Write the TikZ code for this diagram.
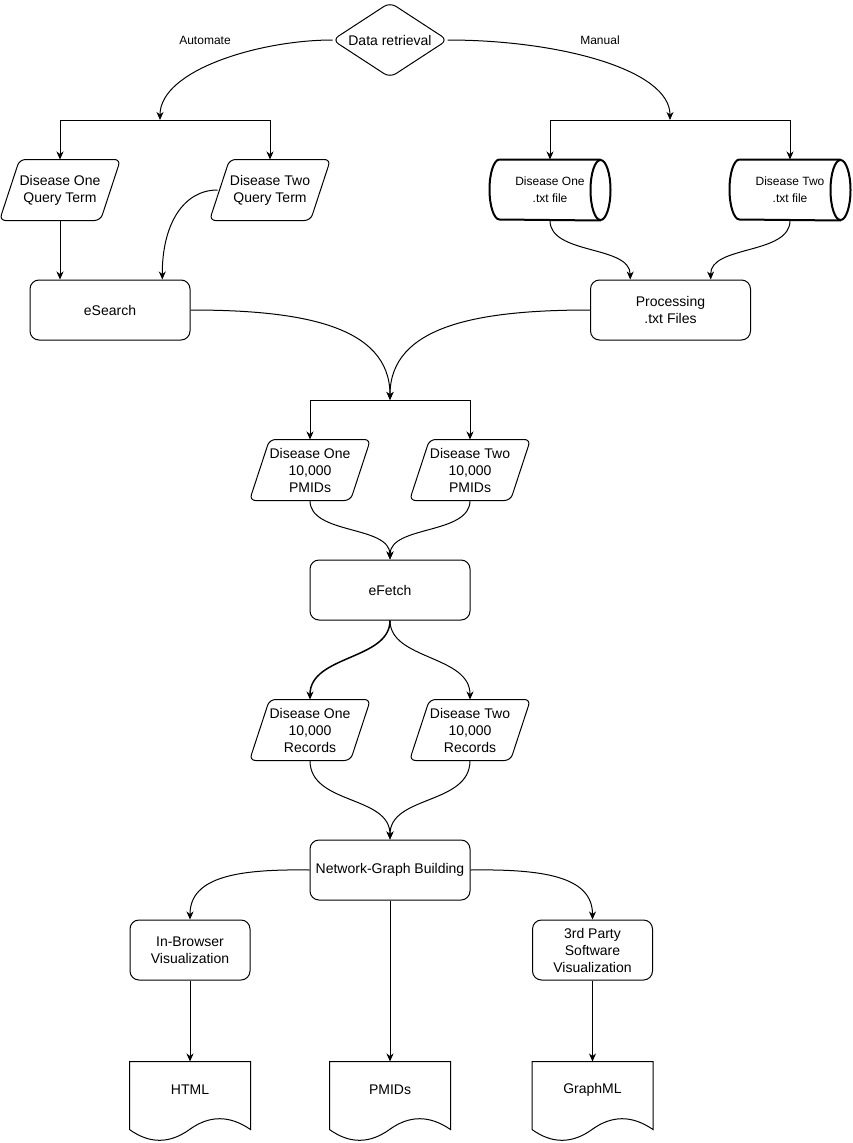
\documentclass[tikz,border=0pt]{standalone}
\usepackage{fontspec}
\setmainfont{Liberation Sans}
\usetikzlibrary{arrows.meta,calc}
\begin{document}
\begin{tikzpicture}[x=1pt,y=-1pt,line width=1pt,
  arr/.style={-{Stealth[length=8pt,width=7pt,inset=2.5pt]}},
  box/.style={draw,rounded corners=9pt,minimum width=160pt,minimum height=60pt,align=center,inner sep=0pt,font=\fontsize{14}{17}\selectfont},
  sbox/.style={box,minimum width=120pt},
  para/.style={minimum width=120pt,minimum height=60pt,align=center,inner sep=0pt,font=\fontsize{14}{17}\selectfont},
  cyl/.style={minimum width=120pt,minimum height=60pt,align=center,inner sep=0pt,font=\fontsize{12}{17}\selectfont},
  docu/.style={minimum width=120pt,minimum height=56pt,align=center,inner sep=0pt,font=\fontsize{14}{17}\selectfont},
  lbl/.style={font=\fontsize{12}{14}\selectfont,inner sep=1pt}]
\useasboundingbox (0,0) rectangle (852,1143);

% decision
\node[minimum width=114pt,minimum height=74pt,inner sep=0pt,font=\fontsize{14}{17}\selectfont] (dr) at (390,40) {Data retrieval};
\draw[rounded corners=7pt] (dr.north) -- (dr.east) -- (dr.south) -- (dr.west) -- cycle;
\node[lbl] (la) at (205,40) {Automate};
\node[lbl] (lm) at (600,40) {Manual};

% query terms
\node[para] (q1) at (60,190) {Disease One\\Query Term};
\node[para] (q2) at (270,190) {Disease Two\\Query Term};
% cylinders
\node[cyl] (c1) at (550,190) {Disease One\\.txt file};
\node[cyl] (c2) at (790,190) {Disease Two\\.txt file};
% boxes
\node[box] (es) at (110,310) {eSearch};
\node[box] (proc) at (670.5,310) {Processing\\.txt Files};
\node[para] (p1) at (310,470) {Disease One\\10,000\\PMIDs};
\node[para] (p2) at (470,470) {Disease Two\\10,000\\PMIDs};
\node[box] (ef) at (390,590) {eFetch};
\node[para] (r1) at (310,730) {Disease One\\10,000\\Records};
\node[para] (r2) at (470,730) {Disease Two\\10,000\\Records};
\node[box] (ngb) at (390,870) {Network-Graph Building};
\node[sbox] (ib) at (190,950) {In-Browser\\Visualization};
\node[sbox] (tp) at (592.5,950) {3rd Party\\Software\\Visualization};
\node[docu] (d1) at (190,1090) {HTML};
\node[docu] (d2) at (390,1090) {PMIDs};
\node[docu] (d3) at (592.5,1090) {GraphML};

% parallelogram outlines
\foreach \n in {q1,q2,p1,p2,r1,r2}{
  \draw[rounded corners=6pt] (\n.north) -- (\n.north east) -- ($(\n.south east)+(-20,0)$) -- (\n.south west) -- ($(\n.north west)+(20,0)$) -- cycle;
}
% cylinder outlines
\foreach \n in {c1,c2}{
  \draw[line width=2pt] ($(\n.north east)+(-10,0)$) -- ($(\n.north west)+(10,0)$) arc[start angle=90,end angle=270,x radius=10pt,y radius=30pt] -- ($(\n.south east)+(-10,0)$);
  \draw[line width=2pt] ($(\n.east)+(-10,0)$) ellipse[x radius=10pt,y radius=30pt];
}
% document outlines
\foreach \n in {d1,d2,d3}{
  \draw (\n.north west) -- (\n.north east) -- ($(\n.north east)+(0,68)$)
    .. controls ($(\n.north west)+(100,53.6)$) and ($(\n.north west)+(80,53.6)$) .. ($(\n.north west)+(60,68)$)
    .. controls ($(\n.north west)+(40,82.4)$) and ($(\n.north west)+(20,82.4)$) .. ($(\n.north west)+(0,68)$) -- cycle;
}

% fork points
\coordinate (fA) at (160,120);
\coordinate (fM) at (670,120);
\coordinate (fP) at (390,400);

% connectors
\draw[arr] (dr.west) .. controls (260,40) and (160,70) .. (fA);
\draw[arr] (dr.east) .. controls (560,40) and (670,70) .. (fM);
\draw[arr] (fA) -| (q1.north);
\draw[arr] (fA) -| (q2.north);
\draw[arr] (fM) -| (c1.north);
\draw[arr] (fM) -| (c2.north);
\draw[arr] (q1.south) -- (q1.south |- es.north);
\draw[arr] ($(q2.west)+(8,0)$) .. controls (183,190) and (162,225) .. ($(es.north west)!0.825!(es.north east)$);
\draw[arr] (c1.south) .. controls (550,255) and (630,245) .. ($(proc.north west)!0.25!(proc.north east)$);
\draw[arr] (c2.south) .. controls (790,255) and (710,245) .. ($(proc.north west)!0.75!(proc.north east)$);
\draw[arr] (es.east) .. controls (300,310) and (390,325) .. (fP);
\draw[arr] (proc.west) .. controls (480,310) and (390,325) .. (fP);
\draw[arr] (fP) -| (p1.north);
\draw[arr] (fP) -| (p2.north);
\draw[arr] (p1.south) .. controls (310,535) and (390,525) .. (ef.north);
\draw[arr] (p2.south) .. controls (470,535) and (390,525) .. (ef.north);
\draw[arr,line width=1.5pt] (ef.south) .. controls (390,660) and (310,655) .. (r1.north);
\draw[arr] (ef.south) .. controls (390,660) and (470,655) .. (r2.north);
\draw[arr] (r1.south) .. controls (310,805) and (390,795) .. (ngb.north);
\draw[arr] (r2.south) .. controls (470,805) and (390,795) .. (ngb.north);
\draw[arr] (ngb.west) .. controls (240,869) and (190,876) .. (ib.north);
\draw[arr] (ngb.east) .. controls (542,869) and (592.5,876) .. (tp.north);
\draw[arr] (ngb.south) -- (d2.north);
\draw[arr] (ib.south) -- (d1.north);
\draw[arr] (tp.south) -- (d3.north);
\end{tikzpicture}
\end{document}
